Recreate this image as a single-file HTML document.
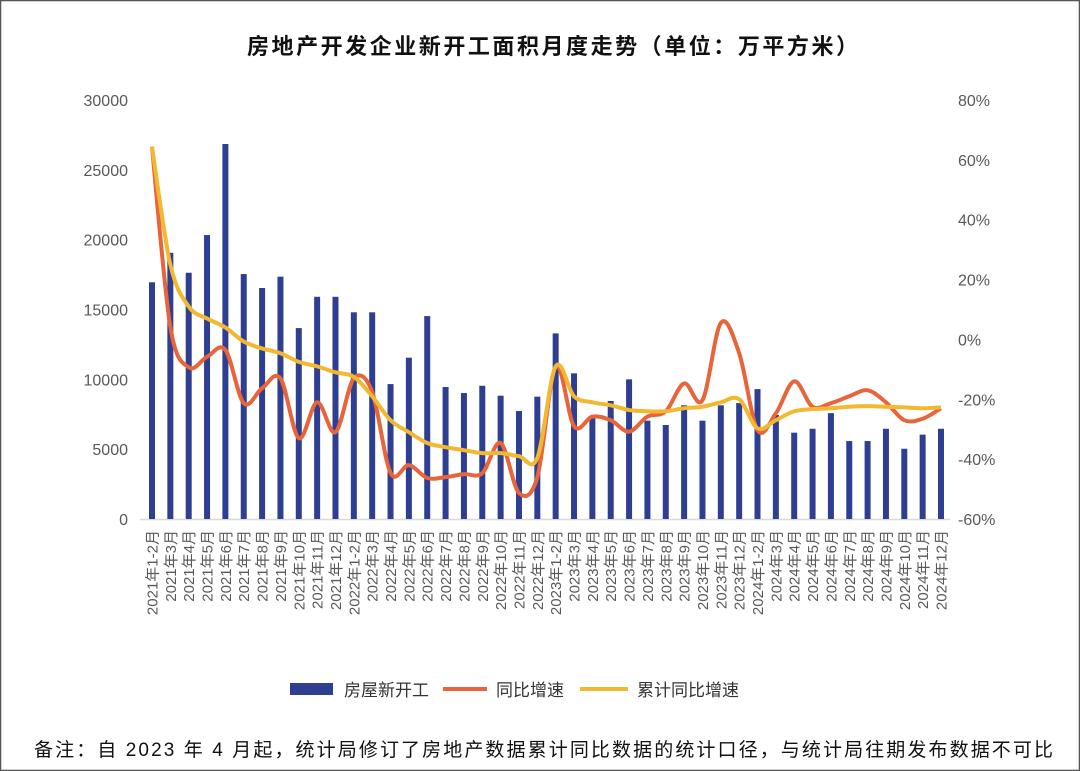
<!DOCTYPE html>
<html><head><meta charset="utf-8"><style>
body{margin:0;background:#fff;}
#wrap{position:relative;width:1080px;height:771px;overflow:hidden;background:#fff;font-family:"Liberation Sans","Noto Sans CJK SC",sans-serif;}
svg text{font-family:"Liberation Sans","Noto Sans CJK SC",sans-serif;}
</style></head><body>
<div id="wrap">
<svg id="chart" width="1080" height="771">
<rect x="0.5" y="0.5" width="1079" height="770" fill="none" stroke="#555" stroke-width="1.5"/>
<text x="247" y="54" font-size="22" font-weight="bold" fill="#111" textLength="611" lengthAdjust="spacing">房地产开发企业新开工面积月度走势（单位：万平方米）</text>
<g id="axes"></g><g id="bars"></g><g id="lines"></g>
<g>
<rect x="290" y="683" width="43" height="12" fill="#2e3f92"/>
<text x="344" y="696" font-size="17" fill="#333">房屋新开工</text>
<line x1="443" y1="689" x2="487" y2="689" stroke="#e8643a" stroke-width="4"/>
<text x="496" y="696" font-size="17" fill="#333">同比增速</text>
<line x1="580" y1="689" x2="628" y2="689" stroke="#f2b830" stroke-width="4"/>
<text x="637" y="696" font-size="17" fill="#333">累计同比增速</text>
</g>
<text x="34" y="756" font-size="19" fill="#111" textLength="1019" lengthAdjust="spacing">备注：自 2023 年 4 月起，统计局修订了房地产数据累计同比数据的统计口径，与统计局往期发布数据不可比</text>
</svg>
</div>
<script>
const categories=[];
const years=[2021,2022,2023,2024];
const months=["1-2","3","4","5","6","7","8","9","10","11","12"];
const newStarts=[16950,19060,17630,20330,26850,17540,16540,17350,13670,15910,15910,14800,14800,9660,11550,14530,9450,9020,9540,8830,7730,8760,13290,10430,7230,8450,10000,7040,6730,8140,7040,8140,8300,9300,7450,6180,6460,7580,5580,5580,6460,5030,6040,6460];
const yoy=[64.4,4.2,-9.3,-5.8,-3.5,-21.3,-16.3,-13,-33,-21,-31,-13,-17.5,-44.6,-42,-46.3,-46,-45,-44.7,-34.6,-51.3,-46,-9,-29,-25.8,-27,-30.8,-25.8,-24,-14.7,-20.3,5.5,-4.6,-30.3,-24.7,-14,-22.5,-21.3,-19,-17,-21,-27,-26.5,-23];
const cumYoy=[64.4,25,11,7,4,-0.7,-3,-4.6,-7.5,-9,-11,-12.5,-19,-27,-31,-34.6,-36,-37,-38,-38,-39,-39.6,-9,-19,-21,-22,-23.6,-24,-24,-23,-22.5,-21,-20,-29.7,-27,-24,-23.3,-23,-22.5,-22.3,-22.5,-22.7,-23,-22.7];
const leftTicks=[0,5000,10000,15000,20000,25000,30000];
const rightTicks=[-60,-40,-20,0,20,40,60,80];
years.forEach(y=>months.forEach(m=>categories.push(y+"年"+m+"月")));

const NS="http://www.w3.org/2000/svg";
const X0=152,X1=941,Y0=519,Y1=100;
const xPos=i=>X0+(X1-X0)*i/(categories.length-1);
const yL=v=>Y0-(v-0)/(30000-0)*(Y0-Y1);
const yR=v=>Y0-(v+60)/140*(Y0-Y1);
function mk(tag,attrs,parent){const e=document.createElementNS(NS,tag);for(const k in attrs)e.setAttribute(k,attrs[k]);parent.appendChild(e);return e;}
const axes=document.getElementById('axes'),bars=document.getElementById('bars'),lines=document.getElementById('lines');

const base=mk('line',{x1:140,y1:Y0+0.5,x2:950,y2:Y0+0.5,stroke:'#d9d9d9','stroke-width':1.5},axes);


leftTicks.forEach(v=>{const t=mk('text',{x:128,y:yL(v)+6,'text-anchor':'end','font-size':16,fill:'#595959'},axes);t.textContent=v;

});
rightTicks.forEach(v=>{const t=mk('text',{x:958,y:yR(v)+6,'font-size':16,fill:'#595959'},axes);t.textContent=v+'%';

});
categories.forEach((c,i)=>{const x=xPos(i);const t=mk('text',{x:0,y:0,'text-anchor':'end','font-size':15,fill:'#595959',transform:`translate(${x+5.5},${Y0+11}) rotate(-90)`},axes);t.textContent=c;

});

newStarts.forEach((v,i)=>{const r=mk('rect',{x:xPos(i)-3,y:yL(v),width:6,height:Y0-yL(v),fill:'#2e3f92'},bars);

});

function smooth(pts){let d=`M${pts[0][0]},${pts[0][1]}`;for(let i=0;i<pts.length-1;i++){const p0=pts[i-1]||pts[i],p1=pts[i],p2=pts[i+1],p3=pts[i+2]||p2;const t=1/6;
d+=` C${p1[0]+(p2[0]-p0[0])*t},${p1[1]+(p2[1]-p0[1])*t} ${p2[0]-(p3[0]-p1[0])*t},${p2[1]-(p3[1]-p1[1])*t} ${p2[0]},${p2[1]}`;}return d;}
const l1=mk('path',{d:smooth(yoy.map((v,i)=>[xPos(i),yR(v)])),fill:'none',stroke:'#e8643a','stroke-width':4,'stroke-linejoin':'round'},lines);


const l2=mk('path',{d:smooth(cumYoy.map((v,i)=>[xPos(i),yR(v)])),fill:'none',stroke:'#f2b830','stroke-width':4,'stroke-linejoin':'round'},lines);


</script>
</body></html>
